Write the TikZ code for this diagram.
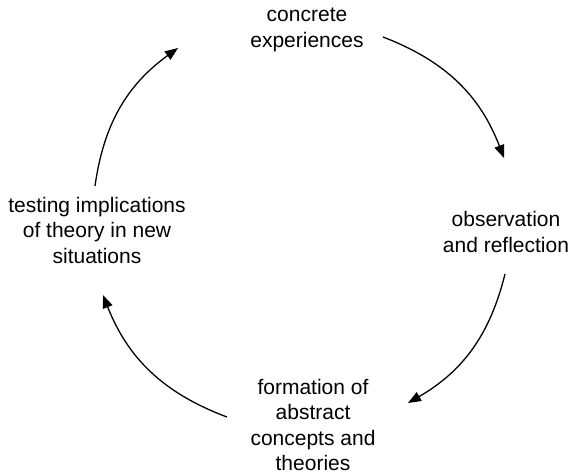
\documentclass[tikz,border=0pt]{standalone}
\usepackage{fontspec}
\setmainfont{Liberation Sans}
\usetikzlibrary{arrows.meta}
\begin{document}
\begin{tikzpicture}[x=1pt,y=1pt,
  lbl/.style={align=center,inner sep=0pt,font=\fontsize{21}{25.5}\selectfont},
  cyc/.style={line width=1.3pt,-{Triangle[length=13pt,width=10pt]}}]
\useasboundingbox (0,0) rectangle (570,475);
\node[lbl] (ce) at (307,445) {concrete\\experiences};
\node[lbl] (or) at (506,243) {observation\\and reflection};
\node[lbl] (fa) at (313,50) {formation of\\abstract\\concepts and\\theories};
\node[lbl] (ti) at (97,245) {testing implications\\of theory in new\\situations};
\coordinate (a1s) at (383,438);
\coordinate (a1e) at (504,317);
\coordinate (a2s) at (505,201);
\coordinate (a2e) at (408,72);
\coordinate (a3s) at (227,58);
\coordinate (a3e) at (103,180);
\coordinate (a4s) at (95,289);
\coordinate (a4e) at (178,427);
\draw[cyc] (a1s) to[bend left=24] (a1e);
\draw[cyc] (a2s) to[bend left=23] (a2e);
\draw[cyc] (a3s) to[bend left=24] (a3e);
\draw[cyc] (a4s) to[bend left=23] (a4e);
\end{tikzpicture}
\end{document}
